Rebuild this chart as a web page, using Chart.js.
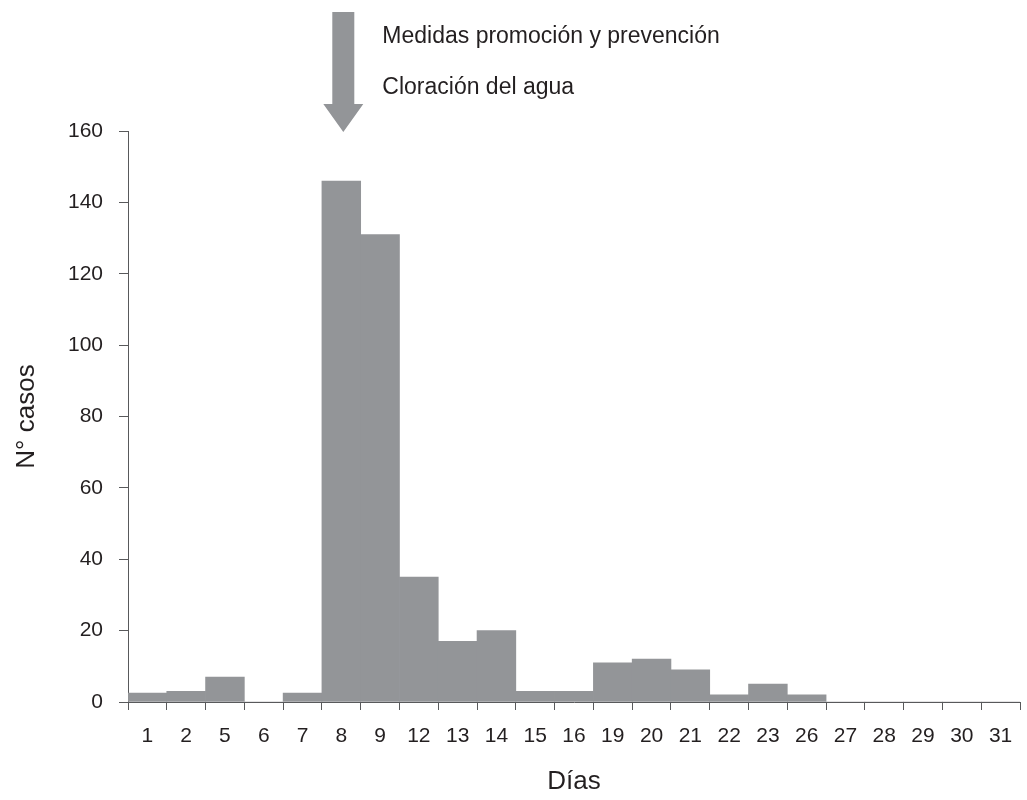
<!DOCTYPE html>
<html>
<head>
<meta charset="utf-8">
<script src="https://cdn.jsdelivr.net/npm/chart.js@4"></script>
<style>
    body { margin: 0; background: #fff; }
    #wrap { width: 1027px; height: 800px; }
</style>
</head>
<body>
<div id="wrap"><canvas id="casos"></canvas></div>
<script>
// Días con casos notificados
const days = ["1", "2", "5", "6", "7", "8", "9", "12", "13", "14", "15", "16",
    "19", "20", "21", "22", "23", "26", "27", "28", "29", "30", "31"];
// N° de casos por día
const cases = [2.5, 3, 7, 0, 2.5, 146, 131, 35, 17, 20, 3, 3,
    11, 12, 9, 2, 5, 2, 0, 0, 0, 0, 0];
// Intervención señalada con la flecha
const interventionDay = "8";
const interventionNotes = ["Medidas promoción y prevención", "Cloración del agua"];

const textColor = "#231f20";
const barColor = "#939598";
const axisColor = "#58595b";

// flecha y notas sobre el día de la intervención
const arrowPlugin = {
    id: "arrow",
    afterDraw(chart) {
        const ctx = chart.ctx;
        const xs = chart.scales.x;
        const cx = xs.getPixelForValue(days.indexOf(interventionDay)) + 2;
        const tip = chart.chartArea.top + 1;
        ctx.save();
        ctx.fillStyle = barColor;
        ctx.beginPath();
        ctx.moveTo(cx - 11, 12);
        ctx.lineTo(cx + 11, 12);
        ctx.lineTo(cx + 11, tip - 28);
        ctx.lineTo(cx + 20, tip - 28);
        ctx.lineTo(cx, tip);
        ctx.lineTo(cx - 20, tip - 28);
        ctx.lineTo(cx - 11, tip - 28);
        ctx.closePath();
        ctx.fill();

        ctx.fillStyle = textColor;
        ctx.font = "23px 'Liberation Sans', Arial, sans-serif";
        ctx.textBaseline = "alphabetic";
        ctx.textAlign = "left";
        ctx.fillText(interventionNotes[0], cx + 39, 43);
        ctx.fillText(interventionNotes[1], cx + 39, 94);
        ctx.restore();
    },
};

new Chart(document.getElementById("casos"), {
    type: "bar",
    data: {
        labels: days,
        datasets: [
            {
                data: cases,
                backgroundColor: barColor,
                borderWidth: 0,
                barPercentage: 1,
                categoryPercentage: 1,
            },
        ],
    },
    options: {
        responsive: true,
        maintainAspectRatio: false,
        animation: false,
        layout: {
            padding: { top: 131, right: 7, left: 0, bottom: 0 },
        },
        plugins: {
            legend: { display: false },
            tooltip: { enabled: false },
        },
        scales: {
            x: {
                grid: {
                    offset: true,
                    drawOnChartArea: false,
                    tickLength: 8,
                    color: axisColor,
                },
                border: { display: true, color: axisColor, width: 1 },
                ticks: {
                    color: textColor,
                    padding: 14,
                    maxRotation: 0,
                    autoSkip: false,
                    font: { family: "'Liberation Sans', Arial", size: 21 },
                },
                title: {
                    display: true,
                    text: "Días",
                    color: textColor,
                    padding: { top: 0, bottom: 3 },
                    font: { family: "'Liberation Sans', Arial", size: 26 },
                },
                afterFit: (scale) => {
                    scale.height = 98;
                },
            },
            y: {
                min: 0,
                max: 160,
                grid: {
                    drawOnChartArea: false,
                    tickLength: 9,
                    color: axisColor,
                },
                border: { display: true, color: axisColor, width: 1 },
                ticks: {
                    stepSize: 20,
                    color: textColor,
                    padding: 16,
                    font: { family: "'Liberation Sans', Arial", size: 21 },
                },
                title: {
                    display: true,
                    text: "N° casos",
                    color: textColor,
                    padding: { top: 11, bottom: 0 },
                    font: { family: "'Liberation Sans', Arial", size: 26 },
                },
                afterFit: (scale) => {
                    scale.width = 128;
                },
            },
        },
    },
    plugins: [arrowPlugin],
});
</script>
</body>
</html>
